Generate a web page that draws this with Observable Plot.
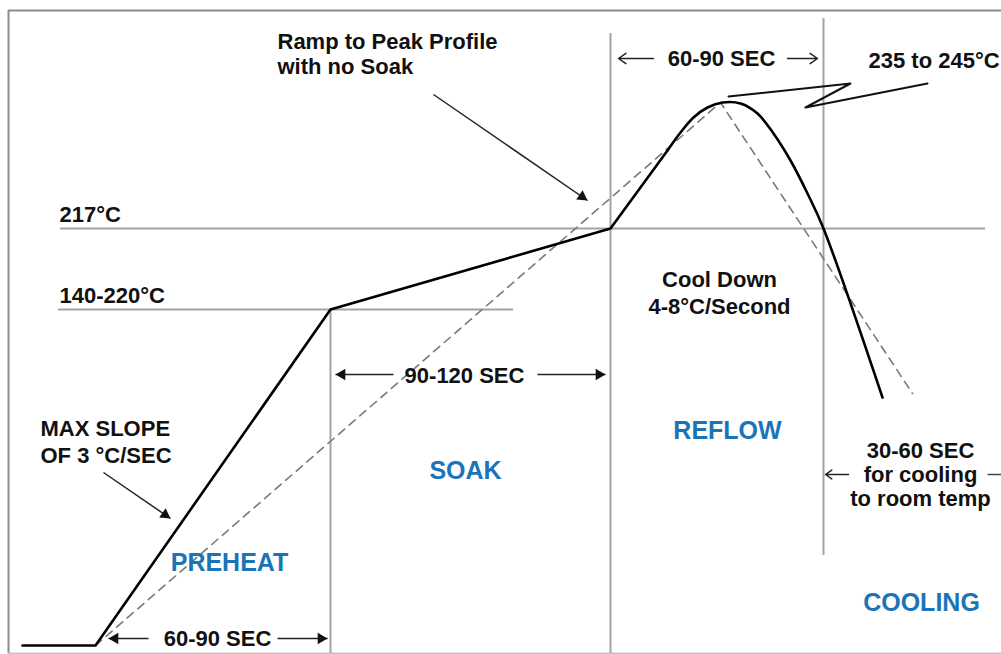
<!DOCTYPE html>
<html><head><meta charset="utf-8">
<script src="https://cdn.jsdelivr.net/npm/d3@7"></script>
<script src="https://cdn.jsdelivr.net/npm/@observablehq/plot@0.6"></script>
<style>html,body{margin:0;padding:0;background:#fff;} #chart svg{display:block}</style>
</head><body><div id="chart"></div>
<script>
// Schematic units: t = time axis (left→right), temp = temperature axis (bottom→top)
const rampT = [22, 95, 330, 610, 667];
const rampTemp = [9, 9, 345, 426, 504];
const peakT = [667, 680, 693, 707, 722, 740, 757, 773, 790, 807, 823, 882];
const peakTemp = [504, 522, 537, 547, 552, 551, 541, 521, 494, 461, 426, 257];
const dashT = [95, 720, 912];
const dashTemp = [9, 552, 261];
const zigT = [728, 850, 805, 927];
const zigTemp = [558, 571, 547, 571];

// guide lines
const vGuideT = [330, 610, 823];
const vGuideTop = [345, 621, 636];
const vGuideBottom = [1, 1, 99];
const hGuideTemp = [426, 345];
const hGuideStart = [60, 58];
const hGuideEnd = [985, 513];

// frame
const frameLeft = 8, frameRight = 1001, frameTop = 644, frameBottom = 1;

// labels
const blackStartText = ["Ramp to Peak Profile", "with no Soak", "235 to 245°C", "217°C", "140-220°C", "MAX SLOPE", "OF 3 °C/SEC"];
const blackStartT = [277, 277, 868, 59, 59, 40, 40];
const blackStartTemp = [606, 581, 587, 433, 352, 219, 192];
const blackMidText = ["60-90 SEC", "90-120 SEC", "Cool Down", "4-8°C/Second", "30-60 SEC", "for cooling", "to room temp", "60-90 SEC"];
const blackMidT = [721, 464, 719, 719, 920, 920, 920, 217];
const blackMidTemp = [589, 272, 368, 341, 197, 173, 149, 9];
const phaseText = ["PREHEAT", "SOAK", "REFLOW", "COOLING"];
const phaseT = [229, 465, 727, 921];
const phaseTemp = [84, 176, 216, 44];

// open arrows
const openX1 = [653, 787, 848], openY1 = [596, 596, 180];
const openX2 = [618, 817, 825], openY2 = [596, 596, 180];
// filled arrows
const fillX1 = [433, 103, 393, 537, 148, 277], fillY1 = [560, 182, 280, 280, 16, 16];
const fillX2 = [587, 170, 335, 605, 108, 327], fillY2 = [454, 136, 280, 280, 16, 16];
// plain stub
const stubX1 = [987], stubX2 = [1001], stubY = [180];

const rampData = rampT.map((t, i) => ({t, temp: rampTemp[i]}));
const peakData = peakT.map((t, i) => ({t, temp: peakTemp[i]}));
const dashData = dashT.map((t, i) => ({t, temp: dashTemp[i]}));
const zigData = zigT.map((t, i) => ({t, temp: zigTemp[i]}));
const vGuides = vGuideT.map((t, i) => ({t, y1: vGuideBottom[i], y2: vGuideTop[i]}));
const hGuides = hGuideTemp.map((y, i) => ({y, x1: hGuideStart[i], x2: hGuideEnd[i]}));
const openArrows = openX1.map((x, i) => ({x1: x, y1: openY1[i], x2: openX2[i], y2: openY2[i]}));
const fillArrows = fillX1.map((x, i) => ({x1: x, y1: fillY1[i], x2: fillX2[i], y2: fillY2[i]}));
const stubs = stubX1.map((x, i) => ({x1: x, x2: stubX2[i], y: stubY[i]}));
// arrow heads: triangles set back from the tip (scale is 1 unit per px)
const headR = 4.2;
const tipBack = 2 * 0.7776 * headR;
const heads = fillArrows.map(d => {
  const dx = d.x2 - d.x1, dy = d.y2 - d.y1, L = Math.hypot(dx, dy);
  return {x: d.x2 - dx / L * tipBack, y: d.y2 - dy / L * tipBack, rot: Math.atan2(dx, dy) * 180 / Math.PI};
});
const mk = (texts, ts, temps) => texts.map((text, i) => ({text, t: ts[i], temp: temps[i]}));

const font = "Liberation Sans, Arial, Helvetica, sans-serif";
const gray = "#a3a3a3";
const chart = Plot.plot({
  width: 1001, height: 654, margin: 0,
  x: {domain: [0, 1001], axis: null},
  y: {domain: [0, 654], axis: null},
  style: {background: "#fff", fontFamily: font},
  marks: [
    // frame
    Plot.ruleX([frameLeft], {y1: frameBottom, y2: frameTop, stroke: "#8c8c8c", strokeWidth: 2}),
    Plot.ruleY([frameTop], {x1: frameLeft, x2: frameRight, stroke: "#8c8c8c", strokeWidth: 2}),
    Plot.ruleY([frameBottom], {x1: frameLeft, x2: frameRight, stroke: "#c4c4c4", strokeWidth: 2}),
    // guides
    Plot.ruleX(vGuides, {x: "t", y1: "y1", y2: "y2", stroke: gray, strokeWidth: 2}),
    Plot.ruleY(hGuides, {y: "y", x1: "x1", x2: "x2", stroke: gray, strokeWidth: 2}),
    // dashed ramp-to-peak profile
    Plot.line(dashData, {x: "t", y: "temp", stroke: "#7a7a7a", strokeWidth: 1.6, strokeDasharray: "8,6"}),
    // solid profile
    Plot.line(rampData, {x: "t", y: "temp", stroke: "#000", strokeWidth: 2.6}),
    Plot.line(peakData, {x: "t", y: "temp", stroke: "#000", strokeWidth: 2.6, curve: "catmull-rom"}),
    // zigzag leader
    Plot.line(zigData, {x: "t", y: "temp", stroke: "#111", strokeWidth: 2}),
    // arrows
    Plot.arrow(openArrows, {x1: "x1", y1: "y1", x2: "x2", y2: "y2", stroke: "#222", strokeWidth: 1.5, headLength: 9, headAngle: 70}),
    Plot.link(fillArrows, {x1: "x1", y1: "y1", x2: "x2", y2: "y2", stroke: "#222", strokeWidth: 1.5}),
    Plot.link(stubs, {x1: "x1", x2: "x2", y1: "y", y2: "y", stroke: "#444", strokeWidth: 1.5}),
    Plot.dot(heads, {x: "x", y: "y", rotate: "rot", symbol: "triangle", r: headR, fill: "#111", stroke: "none"}),
    // labels
    Plot.text(mk(blackStartText, blackStartT, blackStartTemp), {x: "t", y: "temp", text: "text", textAnchor: "start", lineAnchor: "bottom", fontSize: 22, fontWeight: "bold", fill: "#111", fontFamily: font}),
    Plot.text(mk(blackMidText, blackMidT, blackMidTemp), {x: "t", y: "temp", text: "text", textAnchor: "middle", lineAnchor: "bottom", fontSize: 22, fontWeight: "bold", fill: "#111", fontFamily: font}),
    Plot.text(mk(phaseText, phaseT, phaseTemp), {x: "t", y: "temp", text: "text", textAnchor: "middle", lineAnchor: "bottom", fontSize: 25, fontWeight: "bold", fill: "#1b74b8", fontFamily: font})
  ]
});
document.getElementById("chart").appendChild(chart);
</script></body></html>
